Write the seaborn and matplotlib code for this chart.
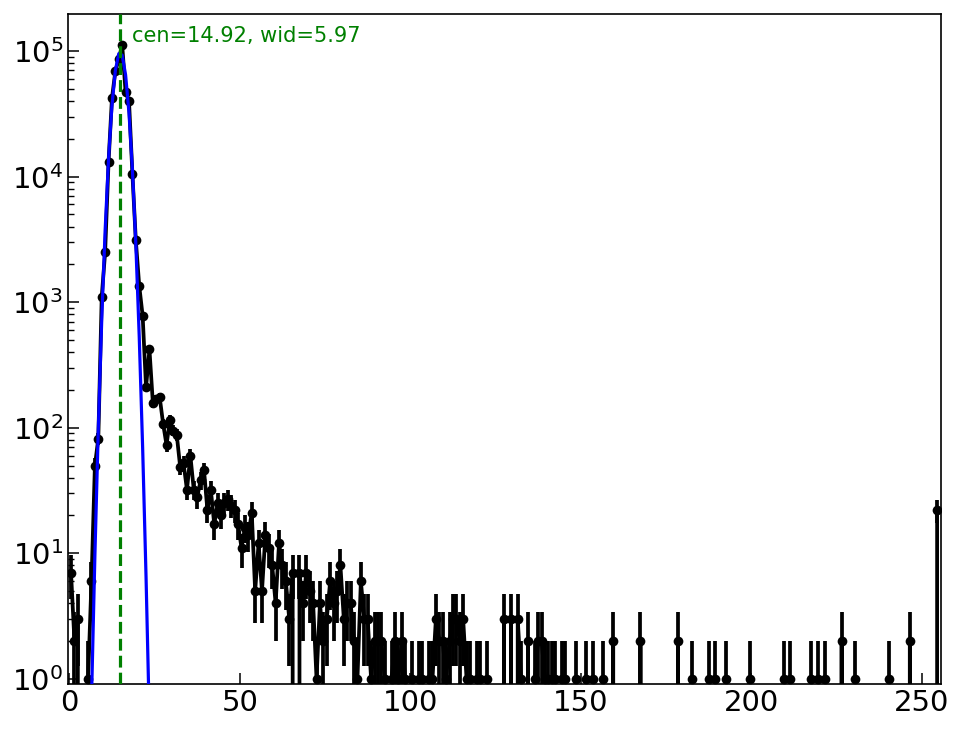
import numpy as np
import pandas as pd
import matplotlib
matplotlib.use("Agg")
import matplotlib.pyplot as plt
import seaborn as sns

# histogram counts per bin (255 bins)
counts = [
    7, 2, 3, 0, 0, 1, 6, 50, 82, 1100, 2500, 13000, 42000, 69000, 86000, 112000,
    47000, 40000, 10500, 3100, 1350, 780, 210, 420, 157, 170, 175, 108, 73, 115, 95, 88,
    49, 52, 32, 60, 32, 28, 38, 46, 22, 32, 17, 25, 20, 25, 27, 24,
    22, 17, 11, 16, 14, 21, 5, 12, 5, 14, 11, 8, 4, 12, 8, 6,
    3, 7, 0, 7, 4, 7, 5, 4, 1, 4, 2, 3, 6, 4, 5, 8,
    3, 4, 4, 2, 1, 6, 3, 3, 1, 2, 2, 2, 1, 0, 1, 2,
    1, 2, 1, 0, 1, 0, 1, 1, 0, 1, 1, 3, 2, 2, 1, 2,
    3, 3, 2, 3, 1, 1, 0, 1, 1, 0, 1, 0, 0, 0, 0, 3,
    0, 3, 0, 3, 1, 0, 2, 0, 1, 2, 2, 1, 1, 1, 1, 0,
    1, 1, 0, 0, 1, 0, 0, 1, 0, 1, 0, 0, 1, 0, 0, 2,
    0, 0, 0, 0, 0, 0, 0, 2, 0, 0, 0, 0, 0, 0, 0, 0,
    0, 0, 2, 0, 0, 0, 1, 0, 0, 0, 0, 1, 0, 1, 0, 0,
    1, 0, 0, 0, 0, 0, 0, 1, 0, 0, 0, 0, 0, 0, 0, 0,
    0, 1, 0, 1, 0, 0, 0, 0, 0, 1, 0, 1, 0, 1, 0, 0,
    0, 0, 2, 0, 0, 0, 1, 0, 0, 0, 0, 0, 0, 0, 0, 0,
    1, 0, 0, 0, 0, 0, 2, 0, 0, 0, 0, 0, 0, 0, 22,
]

# gaussian fit parameters
cen = 14.92
wid = 5.97
amp = 98000

df = pd.DataFrame({"pixel": np.arange(len(counts)) + 0.5, "count": counts})
df["err"] = np.sqrt(df["count"])
df["fit"] = amp * np.exp(-(df["pixel"] - cen) ** 2 / wid)

sns.set_style("ticks", {"xtick.direction": "in", "ytick.direction": "in",
                        "axes.edgecolor": "black", "xtick.color": "black",
                        "ytick.color": "black"})

fig = plt.figure(figsize=(9.64, 7.29), dpi=100)
ax = fig.add_axes([0.0705, 0.0617, 0.9055, 0.9191])

# data with poisson error bars
sns.lineplot(data=df, x="pixel", y="count", color="black", lw=2.7,
             marker="o", markersize=7, markeredgewidth=0, ax=ax, zorder=2)
ax.errorbar(df["pixel"], df["count"], yerr=df["err"], fmt="none",
            ecolor="black", elinewidth=2.7, capsize=0, zorder=2)

# fit
sns.lineplot(data=df, x="pixel", y="fit", color="blue", lw=2.3, ax=ax, zorder=3)
ax.axvline(cen, color="green", ls="--", lw=2.3, zorder=4)
ax.text(cen + 3.4, 0.967, f"cen={cen:.2f}, wid={wid:.2f}", color="green",
        fontsize=15, va="center", ha="left", transform=ax.get_xaxis_transform())

ax.set_yscale("log")
ax.set_xlim(-0.4, 255.6)
ax.set_ylim(0.91, 1.97e5)
ax.set_xticks([0, 50, 100, 150, 200, 250])
ax.set_xlabel("")
ax.set_ylabel("")
ax.tick_params(which="major", labelsize=21, length=8, width=1.1,
               top=False, right=False)
ax.tick_params(which="minor", length=4.5, width=1.0, top=False, right=False)
ax.tick_params(axis="x", which="minor", bottom=False)
for s in ax.spines.values():
    s.set_linewidth(1.2)

fig.savefig("out.png", dpi=100)
